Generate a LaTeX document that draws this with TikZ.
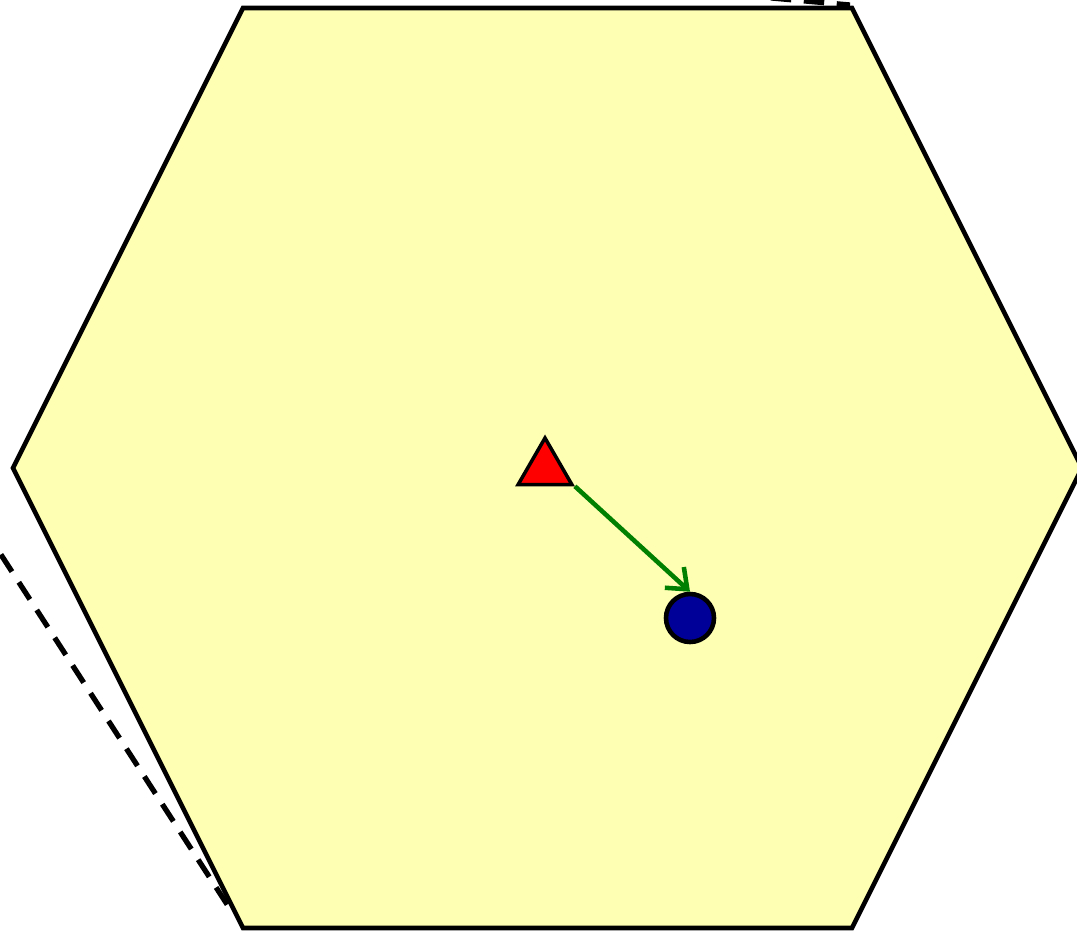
\documentclass[tikz,border=0pt]{standalone}
\usepackage{xcolor}
\usepackage{tikz}
\usetikzlibrary{arrows.meta,positioning,shapes.geometric,calc}
\definecolor{cYellow}{RGB}{255,255,179}
\definecolor{cRed}{RGB}{255,0,0}
\definecolor{cNavy}{RGB}{0,0,153}
\definecolor{cGreen}{RGB}{0,128,0}

\begin{document}
\begin{tikzpicture}[x=1cm,y=1cm]
\useasboundingbox (0,0) rectangle (10.77,9.31);
\clip (0,0) rectangle (10.77,9.31);
\draw[line width=1.3pt,fill=cYellow,line join=miter] (2.43,9.23)--(8.52,9.23)--(10.82,4.63)--(8.52,0.03)--(2.43,0.03)--(0.13,4.63)--cycle;
\draw[line width=1.5pt,dash pattern=on 5.8pt off 3.6pt] (-0.35,4.32)--(2.32,0.19);
\draw[line width=1.5pt,dash pattern=on 5.8pt off 3.6pt] (7.38,9.36)--(8.50,9.26);
\node[regular polygon,regular polygon sides=3,draw=black,line width=1pt,fill=cRed,inner sep=0pt,minimum size=0.62cm] (src) at (5.45,4.62) {};
\node[circle,draw=black,line width=1.3pt,fill=cNavy,inner sep=0pt,minimum size=0.48cm] (dst) at (6.90,3.13) {};
\draw[-{Straight Barb[length=5pt,width=8pt]},line width=1.3pt,cGreen] (src.corner 3)--(dst.north);
\end{tikzpicture}
\end{document}
